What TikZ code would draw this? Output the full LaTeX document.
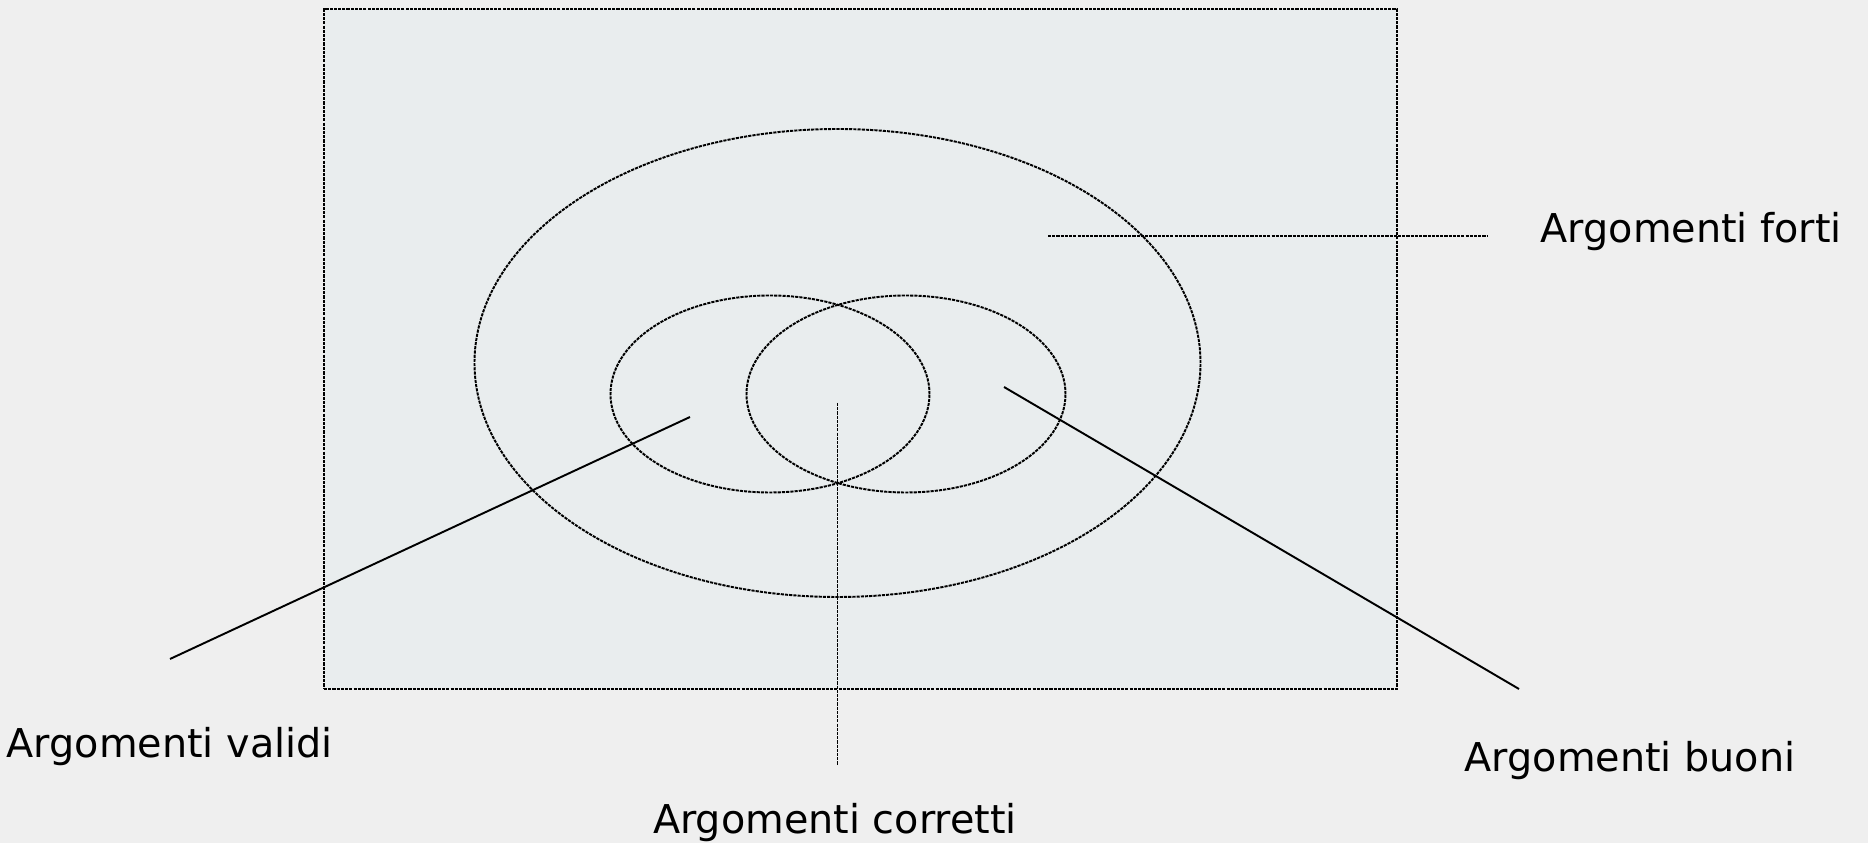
\documentclass[tikz,border=0pt]{standalone}
\usepackage{fontspec}
\setmainfont{DejaVu Sans}
\usetikzlibrary{shapes, positioning, calc}

\definecolor{paper}{HTML}{EFEFEF}
\definecolor{panel}{HTML}{E9EDEE}

\begin{document}
\begin{tikzpicture}[
        x=0.1mm, y=-0.1mm,
        fine/.style={dash pattern=on 0.9pt off 0.3pt, line width=0.55pt},
        set/.style={
            draw=black,
            ellipse,
            fine,
            inner sep=0pt
        },
        label_text/.style={
            font=\fontsize{11.3}{14}\selectfont,
            inner sep=0pt
        },
        line/.style={draw, line width=0.55pt},
        line_dotted/.style={draw, fine}
    ]

    % Background and universe
    \fill[paper] (0,0) rectangle (1868,843);
    \useasboundingbox (0,0) rectangle (1868,843);
    \node[draw=black, fine, fill=panel,
          minimum width=10.73cm, minimum height=6.8cm, inner sep=0pt]
          (universe) at (860.5,349) {};

    % Sets
    \node[set, minimum width=7.26cm, minimum height=4.68cm] (forti) at (837.5,363) {};
    \node[set, minimum width=3.19cm, minimum height=1.97cm] (validi) at (770,394) {};
    \node[set, minimum width=3.19cm, minimum height=1.97cm] (buoni) at (906,394) {};

    % Labels
    \node[label_text, anchor=base west] (forti_txt) at (1540,243) {Argomenti forti};
    \node[label_text, anchor=base west] (validi_txt) at (6,758) {Argomenti validi};
    \node[label_text, anchor=base] (corretti_txt) at (835,834) {Argomenti corretti};
    \node[label_text, anchor=base west] (buoni_txt) at (1464,772) {Argomenti buoni};

    % Leader ends
    \coordinate (forti_in) at (1048,236);
    \coordinate (forti_out) at (1488,236);
    \coordinate (validi_in) at (690,417);
    \coordinate (validi_out) at (170,659);
    \coordinate (corretti_in) at (837.5,403);
    \coordinate (corretti_out) at (837.5,765);
    \coordinate (buoni_in) at (1004,387);
    \coordinate (buoni_out) at (1519,689);

    \draw[line_dotted] (forti_in) -- (forti_out);
    \draw[line] (validi_in) -- (validi_out);
    \draw[line_dotted] (corretti_in) -- (corretti_out);
    \draw[line] (buoni_in) -- (buoni_out);

\end{tikzpicture}
\end{document}
